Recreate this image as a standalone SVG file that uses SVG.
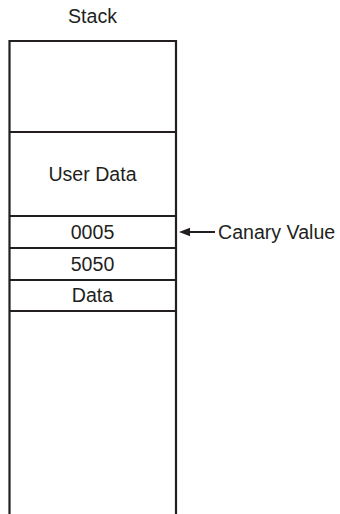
<svg xmlns="http://www.w3.org/2000/svg" width="340" height="514" viewBox="0 0 340 514">
<style>
.ln{stroke:#231f20;stroke-width:2.2;fill:none}
.t{font-family:"Liberation Sans",Arial,sans-serif;font-size:19.6px;fill:#231f20;text-anchor:middle}
</style>
<rect width="340" height="514" fill="#fff"/>
<text class="t" x="92.5" y="22.7">Stack</text>
<g id="stack">
<path class="ln" d="M9.5,514 V41 H176 V514"/>
</g>
<g id="empty-top"><path class="ln" d="M9.5,132 H176"/></g>
<g id="user-data"><text class="t" x="92.5" y="181">User Data</text><path class="ln" d="M9.5,216 H176"/></g>
<g id="canary"><text class="t" x="92.5" y="239.3">0005</text><path class="ln" d="M9.5,248 H176"/></g>
<g id="v5050"><text class="t" x="92.5" y="270.7">5050</text><path class="ln" d="M9.5,280 H176"/></g>
<g id="data"><text class="t" x="92.5" y="302.3">Data</text><path class="ln" d="M9.5,311 H176"/></g>
<g id="canary-label"><text class="t" x="218" y="239.3" style="text-anchor:start">Canary Value</text></g>
<g id="connectors">
<line x1="215" y1="232" x2="189" y2="232" stroke="#231f20" stroke-width="2"/>
<path d="M179,232 L190,227.8 L190,236.2 Z" fill="#231f20"/>
</g>
</svg>
